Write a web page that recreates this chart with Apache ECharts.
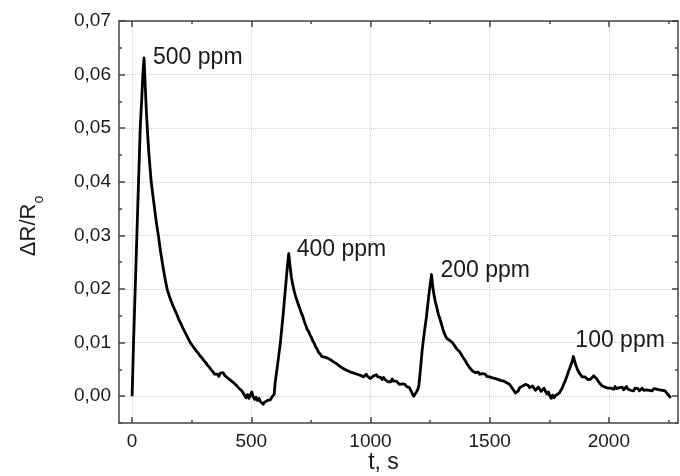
<!DOCTYPE html>
<html>
<head>
<meta charset="utf-8">
<script src="https://cdn.jsdelivr.net/npm/echarts@6/dist/echarts.min.js"></script>
<style>
html,body{margin:0;padding:0;background:#fff;}
#chart{width:680px;height:476px;}
</style>
</head>
<body>
<div id="chart"></div>
<script>
// measured response: [time (s), ΔR/Ro]
const response = [
[0,0.0000],[6,0.0100],[13,0.0200],[20,0.0300],[27,0.0400],[34,0.0500],[41,0.0560],[45,0.0600],[50,0.0631],
[55,0.0580],[60,0.0530],[65,0.0490],[70,0.0455],[80,0.0400],[90,0.0365],[100,0.0330],[110,0.0300],[120,0.0268],[130,0.0240],[140,0.0215],
[148,0.0198],[156,0.0187],[164,0.0177],[172,0.0168],[180,0.0160],[188,0.0152],[196,0.0143],[204,0.0136],[212,0.0128],[220,0.0121],
[228,0.0114],[236,0.0107],[244,0.0100],[252,0.0095],[260,0.0090],[268,0.0085],[276,0.0081],[284,0.0076],[292,0.0072],[300,0.0067],
[308,0.0063],[316,0.0058],[324,0.0054],[332,0.0049],[340,0.0045],[346,0.0041],[352,0.0038],[358,0.0041],[364,0.0037],[370,0.0043],
[376,0.0040],[382,0.0044],[388,0.0039],[394,0.0036],[400,0.0034],[406,0.0035],[412,0.0030],[418,0.0031],[424,0.0026],[430,0.0025],
[436,0.0021],[442,0.0019],[448,0.0015],[454,0.0012],[460,0.0010],[466,0.0006],[472,0.0004],[478,-0.0003],[484,0.0003],[490,-0.0004],
[496,0.0002],[502,0.0008],[508,-0.0001],[514,-0.0006],[520,-0.0002],[526,-0.0008],[532,-0.0004],[538,-0.0010],[544,-0.0007],[550,-0.0015],
[556,-0.0011],[562,-0.0014],[568,-0.0008],[574,-0.0005],[580,-0.0007],[586,-0.0002],[592,0.0001],[596,0.0004],
[600,0.0025],[610,0.0058],[622,0.0100],[633,0.0150],[643,0.0200],[650,0.0235],[657,0.0266],
[662,0.0245],[668,0.0222],[674,0.0208],[680,0.0196],[686,0.0186],[692,0.0178],[698,0.0170],[704,0.0163],[710,0.0155],[716,0.0149],
[722,0.0140],[728,0.0133],[734,0.0125],[740,0.0121],[746,0.0114],[752,0.0110],[758,0.0103],[764,0.0099],[770,0.0092],[776,0.0088],
[782,0.0082],[790,0.0078],[796,0.0074],[802,0.0077],[808,0.0073],[814,0.0075],[820,0.0071],[826,0.0073],[832,0.0068],[838,0.0069],
[845,0.0064],[852,0.0065],[860,0.0060],[867,0.0061],[874,0.0055],[881,0.0056],[888,0.0051],[895,0.0053],[902,0.0048],[909,0.0050],
[916,0.0045],[923,0.0047],[930,0.0043],[937,0.0045],[944,0.0041],[951,0.0043],[958,0.0039],[964,0.0041],[970,0.0036],[976,0.0039],
[982,0.0041],[988,0.0037],[994,0.0038],[1000,0.0033],[1006,0.0036],[1013,0.0038],[1019,0.0035],[1025,0.0040],[1031,0.0036],[1037,0.0033],
[1043,0.0035],[1049,0.0031],[1055,0.0035],[1061,0.0031],[1067,0.0030],[1073,0.0027],[1079,0.0030],[1085,0.0027],[1091,0.0032],[1097,0.0028],
[1103,0.0025],[1109,0.0028],[1115,0.0026],[1121,0.0022],[1127,0.0025],[1133,0.0023],[1139,0.0020],[1145,0.0022],[1151,0.0018],[1157,0.0021],
[1163,0.0016],[1169,0.0011],[1175,0.0005],[1181,0.0000],[1187,0.0003],[1193,0.0008],[1198,0.0012],
[1203,0.0020],[1210,0.0052],[1217,0.0087],[1226,0.0120],[1235,0.0149],[1245,0.0190],[1256,0.0227],
[1261,0.0205],[1266,0.0190],[1272,0.0176],[1278,0.0166],[1284,0.0154],[1290,0.0146],[1296,0.0137],[1302,0.0128],[1308,0.0119],[1315,0.0112],
[1320,0.0108],[1326,0.0110],[1332,0.0104],[1338,0.0105],[1344,0.0100],[1350,0.0098],[1356,0.0092],[1362,0.0088],[1368,0.0086],[1374,0.0083],
[1380,0.0080],[1386,0.0074],[1392,0.0070],[1398,0.0066],[1404,0.0061],[1410,0.0058],[1416,0.0053],[1422,0.0050],[1428,0.0047],[1434,0.0049],
[1440,0.0044],[1446,0.0047],[1452,0.0045],[1458,0.0041],[1464,0.0044],[1470,0.0042],[1476,0.0039],[1482,0.0041],[1488,0.0037],[1494,0.0039],
[1500,0.0036],[1506,0.0038],[1512,0.0034],[1518,0.0037],[1524,0.0033],[1530,0.0035],[1536,0.0031],[1542,0.0033],[1548,0.0029],[1554,0.0032],
[1560,0.0028],[1566,0.0029],[1572,0.0025],[1578,0.0026],[1584,0.0022],[1590,0.0019],[1596,0.0014],[1602,0.0010],[1608,0.0006],[1614,0.0004],
[1620,0.0010],[1626,0.0016],[1632,0.0013],[1638,0.0019],[1644,0.0017],[1650,0.0022],[1656,0.0025],[1662,0.0020],[1668,0.0016],[1674,0.0014],
[1680,0.0019],[1686,0.0015],[1692,0.0011],[1698,0.0014],[1704,0.0017],[1710,0.0013],[1716,0.0009],[1722,0.0012],[1728,0.0015],[1734,0.0009],
[1740,0.0004],[1746,0.0008],[1752,0.0001],[1758,-0.0004],[1764,0.0002],[1770,-0.0003],[1776,0.0001],[1784,0.0000],
[1792,0.0006],[1800,0.0012],[1806,0.0017],[1812,0.0024],[1818,0.0030],[1824,0.0037],[1830,0.0046],[1836,0.0052],[1842,0.0060],[1847,0.0066],[1851,0.0074],
[1858,0.0063],[1864,0.0055],[1870,0.0048],[1876,0.0043],[1882,0.0040],[1888,0.0036],[1894,0.0033],[1900,0.0036],[1906,0.0034],[1912,0.0031],
[1918,0.0034],[1924,0.0032],[1930,0.0035],[1936,0.0038],[1942,0.0036],[1948,0.0033],[1954,0.0029],[1960,0.0025],
[1966,0.0022],[1972,0.0019],[1978,0.0021],[1984,0.0017],[1990,0.0018],[1996,0.0015],[2002,0.0018],[2008,0.0015],[2014,0.0017],[2020,0.0013],
[2026,0.0018],[2032,0.0014],[2038,0.0011],[2044,0.0016],[2050,0.0013],[2056,0.0017],[2062,0.0012],[2068,0.0015],[2074,0.0018],[2080,0.0013],
[2086,0.0015],[2092,0.0011],[2098,0.0014],[2104,0.0010],[2110,0.0015],[2116,0.0012],[2122,0.0014],[2128,0.0010],[2134,0.0013],[2140,0.0015],
[2146,0.0011],[2152,0.0014],[2158,0.0012],[2164,0.0015],[2170,0.0011],[2176,0.0013],[2182,0.0010],[2188,0.0014],[2194,0.0011],[2200,0.0013],
[2206,0.0010],[2212,0.0012],[2218,0.0009],[2224,0.0011],[2230,0.0008],[2236,0.0010],[2242,0.0006],[2248,0.0003],[2254,0.0000],[2260,-0.0003]
];
// tick values
const xMajorTicks = [0, 500, 1000, 1500, 2000];
const xMinorTicks = [250, 750, 1250, 1750, 2250];
const yMajorTicks = [0, 0.01, 0.02, 0.03, 0.04, 0.05, 0.06, 0.07];
const yMinorTicks = [-0.005, 0.005, 0.015, 0.025, 0.035, 0.045, 0.055, 0.065];
// annotations (attached to peak times)
const annoText = ['500 ppm', '400 ppm', '200 ppm', '100 ppm'];
const annoTime = [50, 657, 1256, 1851];

const X_MIN = -55, X_MAX = 2290, Y_MIN = -0.005, Y_MAX = 0.07;
const axisColor = '#444444';
const textColor = '#1a1a1a';
const FONT = '"Liberation Sans", Arial, sans-serif';

const annoOffsets = [[9, 0], [8, -4], [9, -4], [2, -16]];
const markData = annoText.map((txt, i) => {
  const pt = response.find(p => p[0] === annoTime[i]);
  return { name: txt, coord: [pt[0], pt[1]], label: { offset: annoOffsets[i] } };
});

function xAxisDef(pos, ticks, len, showLabel, showLine, showSplit, name) {
  return {
    type: 'value', position: pos, min: X_MIN, max: X_MAX,
    name: name || '',
    nameLocation: 'middle', nameGap: 28, nameMoveOverlap: false,
    nameTextStyle: { fontFamily: FONT, fontSize: 23, color: textColor, padding: [0, 30, 0, 0] },
    axisLine: { show: showLine, onZero: false, lineStyle: { color: axisColor, width: 1.5 } },
    axisTick: { show: true, inside: true, length: len, customValues: ticks, lineStyle: { color: axisColor, width: 1.5 } },
    axisLabel: { show: showLabel, customValues: ticks, fontFamily: FONT, fontSize: 19, color: textColor, margin: 9,
      formatter: v => String(v) },
    splitLine: { show: showSplit, lineStyle: { color: '#cfcfcf', type: 'dotted', width: 1 } },
    minorTick: { show: false }
  };
}
function yAxisDef(pos, ticks, len, showLabel, showLine, showSplit, name) {
  return {
    type: 'value', position: pos, min: Y_MIN, max: Y_MAX,
    name: name || '',
    nameLocation: 'middle', nameGap: 79, nameRotate: 90, nameMoveOverlap: false,
    nameTextStyle: {
      fontFamily: FONT, fontSize: 22, color: textColor, padding: [0, 8, 0, 0],
      rich: {
        a: { fontFamily: FONT, fontSize: 22, color: textColor },
        b: { fontFamily: FONT, fontSize: 14, color: textColor, verticalAlign: 'bottom', padding: [0, 0, -6, 0] }
      }
    },
    axisLine: { show: showLine, onZero: false, lineStyle: { color: axisColor, width: 1.5 } },
    axisTick: { show: true, inside: true, length: len, customValues: ticks, lineStyle: { color: axisColor, width: 1.5 } },
    axisLabel: {
      show: showLabel, customValues: ticks, fontFamily: FONT, fontSize: 19, color: textColor, margin: 8,
      formatter: v => v.toFixed(2).replace('.', ',')
    },
    splitLine: { show: showSplit, lineStyle: { color: '#cfcfcf', type: 'dotted', width: 1 } },
    minorTick: { show: false }
  };
}

const chart = echarts.init(document.getElementById('chart'), null, { renderer: 'canvas' });
chart.setOption({
  backgroundColor: '#ffffff',
  animation: false,
  grid: { left: 119, right: 2, top: 21, bottom: 53, containLabel: false, outerBoundsMode: 'none' },
  xAxis: [
    xAxisDef('bottom', xMajorTicks, 6, true, true, true, 't, s'),
    xAxisDef('bottom', xMinorTicks, 3, false, false, false),
    xAxisDef('top', xMajorTicks, 6, false, true, false),
    xAxisDef('top', xMinorTicks, 3, false, false, false)
  ],
  yAxis: [
    yAxisDef('left', yMajorTicks, 6, true, true, true, '{a|ΔR/R}{b|o}'),
    yAxisDef('left', yMinorTicks, 3, false, false, false),
    yAxisDef('right', yMajorTicks, 6, false, true, false),
    yAxisDef('right', yMinorTicks, 3, false, false, false)
  ],
  series: [{
    type: 'line',
    xAxisIndex: 0, yAxisIndex: 0,
    data: response,
    showSymbol: false,
    symbol: 'none',
    lineStyle: { color: '#000', width: 2.8, join: 'round' },
    markPoint: {
      symbol: 'circle', symbolSize: 0, silent: true,
      label: {
        show: true, position: 'right', distance: 0,
        formatter: '{b}', fontFamily: FONT, fontSize: 23, color: textColor
      },
      data: markData
    }
  }]
});
</script>
</body>
</html>
